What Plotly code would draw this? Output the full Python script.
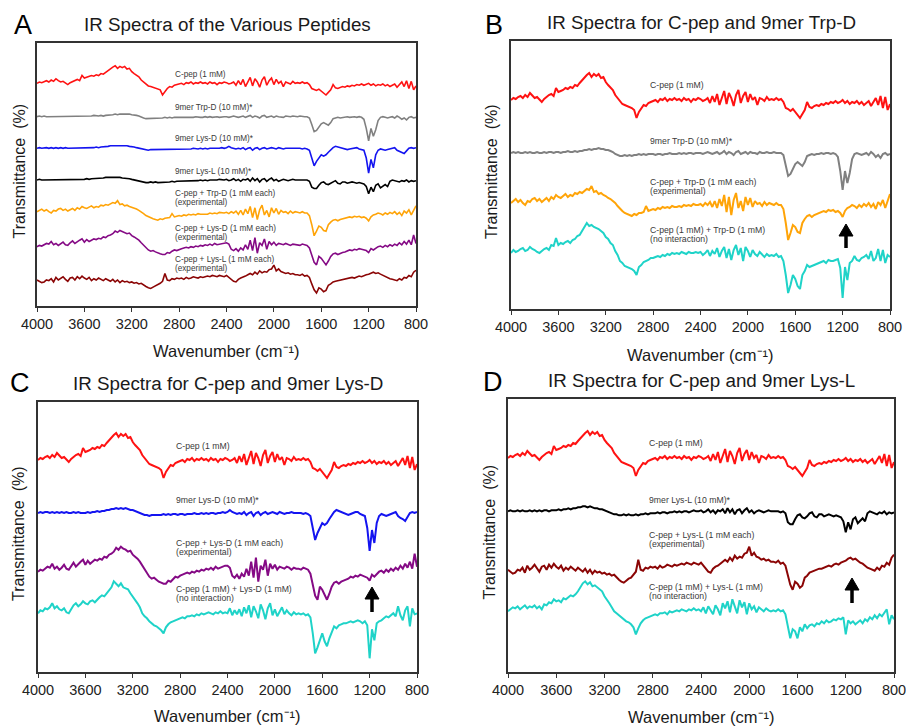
import plotly.graph_objects as go

# Wavenumber grid (cm-1), 4000 -> 800 every 20
WN = list(range(4000, 799, -20))

# Relative transmittance readings (arbitrary units, up = higher transmittance)
CPEP = [0, 2, 1, 3, 4, 2, 5, 3, 7, 4,
        2, 3, 0, -2, 1, 3, 5, 6, 4, 12,
        8, 9, 10, 12, 11, 13, 12, 15, 14, 17,
        20, 22, 25, 27, 23, 26, 24, 26, 22, 23,
        18, 15, 12, 10, 5, 2, -2, -4, -5, -6,
        -7, -8, -10, -18, -12, -8, -5, -6, -3, -2,
        -1, 0, -2, 1, 0, 2, -1, 1, 0, 2,
        0, 1, -1, 2, 0, 1, -2, 1, 0, 2,
        1, -1, 0, 2, -3, 4, -2, 6, -5, 3,
        9, -4, 7, 2, -6, 5, 10, -3, 4, 8,
        -2, 6, 0, 3, -5, 2, 1, -1, 3, 0,
        1, 0, 2, 0, 1, -2, -8, -9, -11, -9,
        -12, -15, -18, -14, -10, -2, -7, -8, -6, -5,
        -6, -4, -5, -3, -4, -2, -3, -1, -3, -2,
        0, -3, -1, -4, -2, -3, -1, -4, -2, -5,
        -3, -1, -6, -2, 2, -5, 4, -8, 3, -10,
        -4]

TRPD = [0, 1, 0, 1, 0, 0, 1, 0, 1, 0,
        0, 1, 0, 0, 1, 0, 1, 1, 0, 1,
        1, 0, 1, 1, 2, 1, 1, 2, 1, 2,
        2, 3, 3, 4, 3, 4, 4, 5, 4, 4,
        3, 3, 2, 1, -1, -2, -3, -3, -2, -3,
        -2, -3, -2, -2, -1, -2, -1, -2, -1, -1,
        -1, -2, -1, -1, -2, -1, -1, 0, -1, -1,
        -1, 0, -1, 0, -1, 0, 0, -1, 0, 0,
        0, -1, 0, 1, 0, -1, 0, 1, -1, 0,
        2, -1, 1, 0, -2, 1, 2, -1, 0, 1,
        -1, 1, 0, 0, -1, 1, 0, 0, 1, 0,
        0, 1, 0, 0, 0, -2, -12, -23, -21, -16,
        -11, -9, -11, -13, -9, -3, -2, -1, -2, -1,
        -1, 0, -1, 0, 0, -1, 0, -1, -4, -18,
        -37, -18, -30, -20, -6, -1, 0, -1, -2, -1,
        0, -2, 1, -1, -4, -2, -5, -1, 0, -2,
        -1]

LYSD = [0, 1, 0, 1, 1, 0, 1, 0, 1, 0,
        1, 0, 1, 0, 0, 1, 0, 1, 0, 0,
        0, 1, 0, 1, 1, 2, 1, 2, 2, 3,
        3, 4, 4, 5, 4, 5, 4, 5, 4, 3,
        3, 2, 1, 0, -1, -2, -2, -3, -2, -2,
        -2, -2, -2, -1, -2, -1, -2, -1, -1, -2,
        -1, -1, -2, -1, -1, -1, 0, -1, -1, 0,
        -1, 0, -1, 0, 0, -1, 0, 0, 1, 0,
        1, 3, 1, 0, -1, 0, -1, 1, -2, 0,
        1, -3, 0, 1, -2, 0, 1, -1, 0, 1,
        0, -1, 1, 0, -1, 0, 0, 1, 0, 0,
        0, 0, -1, 0, -1, -3, -15, -27, -20, -15,
        -10, -12, -10, -6, -2, 1, 3, 2, 1, 0,
        -1, -2, -1, 0, 1, 1, -1, -2, -3, -15,
        -38, -17, -30, -10, -3, -1, -2, -3, -2, -1,
        0, 1, -3, -5, -6, -8, -4, 0, 1, 0,
        1]

LYSL = [0, 1, 0, 0, 1, 0, 1, 0, 0, 1,
        0, 1, 0, 1, 0, 1, 1, 0, 1, 1,
        1, 2, 1, 2, 2, 3, 2, 3, 3, 4,
        4, 5, 5, 4, 5, 4, 3, 3, 2, 2,
        1, 0, -1, -2, -3, -3, -4, -4, -3, -4,
        -3, -4, -4, -3, -4, -3, -3, -2, -3, -2,
        -2, -2, -1, -2, -1, -1, -2, -1, -1, 0,
        -1, 0, -1, 0, 0, -1, 0, 1, 0, 0,
        1, -1, 0, 2, -1, 1, -2, 1, 0, 2,
        -2, 3, -1, 2, -3, 1, 2, -2, 1, 3,
        -1, 1, -2, 0, 1, 0, -1, 0, 1, 0,
        0, 0, 0, -1, 0, -2, -11, -13, -13, -8,
        -4, -3, -6, -7, -5, -2, -1, -5, -6, -3,
        -3, -5, -4, -3, -4, -5, -4, -5, -6, -10,
        -21, -11, -18, -8, -6, -12, -9, -7, -10, -2,
        0, -1, -2, -3, -1, -2, 0, -3, -1, -2,
        -1]

MIX_TRPD = [0, 2, 4, 1, 3, 0, -2, 2, 1, 4,
            5, 2, 4, 1, 3, 5, 2, 6, 4, 8,
            6, 5, 7, 9, 6, 8, 7, 10, 9, 11,
            10, 12, 14, 13, 17, 11, 12, 9, 10, 8,
            7, 5, 4, 2, 0, -3, -6, -8, -10, -11,
            -12, -13, -11, -12, -10, -10, -9, -3, -8, -7,
            -6, -7, -5, -6, -4, -5, -4, -5, -3, -4,
            -4, -3, -4, -2, -3, -2, -3, -1, -2, -2,
            -1, -3, 0, -2, 1, -4, 2, -5, 4, -3,
            8, -9, 6, -12, 3, 10, -5, 2, -8, 6,
            -2, 5, -4, 2, -1, 0, -3, 1, -2, 0,
            -1, -2, 0, -2, -2, -6, -20, -37, -30, -22,
            -24, -29, -30, -20, -16, -13, -12, -14, -12, -11,
            -10, -9, -8, -9, -7, -8, -7, -9, -8, -10,
            -14, -8, -5, -4, -2, -3, -5, -2, -4, -1,
            -3, 0, -4, -1, -6, 1, -2, 3, -5, 2,
            9]

MIX_LYSD = [0, 2, 1, 3, 5, 4, 8, 3, 5, 2,
            4, 7, 3, 2, 6, 9, 5, 8, 10, 12,
            7, 11, 8, 10, 12, 11, 13, 12, 15, 14,
            17, 18, 20, 24, 22, 25, 23, 22, 20, 21,
            17, 15, 13, 10, 6, 2, -2, -5, -7, -6,
            -8, -10, -11, -12, -12, -9, -10, -7, -5, -6,
            -4, -3, -2, -1, -2, 0, -1, 1, 0, 2,
            1, 3, 2, 4, 2, 5, 3, 4, 5, 6,
            6, 4, -4, -6, -3, -7, -2, -5, 3, -4,
            10, -6, 14, -10, 6, 2, 12, -4, 8, 3,
            7, 2, 5, 4, 3, 5, 4, 2, 4, 3,
            3, 2, 4, 3, 2, -2, -12, -24, -28, -15,
            -18, -24, -28, -22, -15, -11, -10, -12, -10, -9,
            -8, -7, -5, -6, -4, -5, -3, -4, -5, -6,
            -9, -3, -5, -2, 0, 1, -1, 2, 0, 3,
            1, 4, 2, 6, 3, 8, 4, 10, 3, 18,
            5]

MIX_LYSL = [0, -2, -4, -3, 0, -1, 2, -3, 4, 0,
            2, 5, 1, -2, 3, 4, 0, 5, 2, 6,
            3, 1, 4, -1, 2, 0, 3, 1, -1, 2,
            0, -2, 1, -3, 0, -4, -1, -3, -2, -4,
            -3, -5, -4, -6, -5, -8, -10, -12, -13, -11,
            -9, -8, -5, -2, 10, 0, -1, 2, 1, 3,
            2, 3, 1, 4, 2, 3, 5, 4, 3, 5,
            4, 5, 6, 5, 7, 6, 5, 7, 6, 5,
            7, 4, 2, -2, -3, 1, 3, 4, 6, 8,
            10, 8, 12, 9, 14, 11, 13, 12, 16, 17,
            23, 14, 17, 13, 12, 10, 11, 9, 10, 8,
            8, 7, 9, 6, 7, 4, -6, -15, -20, -12,
            -14, -18, -16, -8, -6, -3, -2, -1, 0, 1,
            1, 2, 3, 4, 3, 5, 6, 5, 7, 8,
            9, 11, 12, 10, 11, 9, 7, 6, 4, 2,
            1, 0, -1, 2, 0, 4, 3, 7, 5, 12,
            15]

SUM_TRPD = [0, 3, 1, 2, 4, 5, 2, 3, 6, 4,
            3, 1, 0, 2, 4, 5, 3, 8, 7, 15,
            8, 10, 9, 11, 12, 10, 13, 14, 17, 18,
            22, 25, 30, 27, 28, 26, 25, 24, 22, 20,
            16, 14, 10, 8, 2, -2, -8, -10, -13, -14,
            -15, -16, -18, -22, -14, -12, -9, -8, -7, -5,
            -5, -4, -3, -4, -2, -3, -1, -2, 0, -1,
            0, -1, 1, 0, -1, 1, 0, 0, 1, 0,
            1, -2, 0, 3, -3, 2, -1, 5, -4, 2,
            6, -5, 4, -7, 3, 8, -2, 5, -8, 6,
            2, -4, 3, -1, -3, 1, -2, -4, -1, -3,
            -2, -3, -1, -4, -3, -8, -22, -40, -32, -22,
            -26, -33, -36, -22, -18, -12, -14, -13, -12, -11,
            -10, -9, -8, -10, -7, -8, -8, -7, -6, -15,
            -45, -14, -27, -10, -8, -3, -7, -8, -5, -4,
            -2, -6, 2, -8, -5, 4, -8, 3, -10, -2,
            -4]

SUM_LYSD = [0, 3, 2, 5, 4, 6, 10, 5, 7, 4,
            3, 5, 1, 0, 4, 8, 10, 7, 9, 12,
            10, 9, 12, 13, 11, 14, 16, 18, 17, 20,
            23, 26, 32, 29, 27, 30, 26, 25, 24, 20,
            17, 14, 10, 6, 0, -3, -5, -8, -10, -12,
            -13, -15, -17, -20, -14, -11, -9, -8, -7, -6,
            -5, -4, -5, -3, -3, -2, -3, -1, -2, 0,
            -1, 0, 1, 0, -1, 1, 0, 2, 0, 1,
            0, 5, -2, 3, -1, 4, -3, 6, 0, 8,
            -4, 7, 2, -5, 9, 3, -6, 5, 10, -2,
            4, -3, 2, 6, -1, 3, 0, -2, 1, -1,
            0, -1, 0, -2, -1, -4, -20, -40, -34, -27,
            -20, -28, -33, -25, -18, -13, -15, -12, -11, -10,
            -10, -9, -8, -9, -8, -7, -8, -10, -8, -12,
            -45, -16, -27, -10, -8, -7, -5, -3, -4, -2,
            0, -3, 7, -2, -7, 3, 7, -13, 5, -1,
            0]

SUM_LYSL = [0, 2, 4, 3, 5, 2, 4, 6, 3, 5,
            4, 6, 3, 5, 2, 7, 6, 9, 8, 12,
            10, 11, 9, 13, 12, 14, 16, 15, 17, 20,
            24, 28, 30, 27, 29, 25, 26, 24, 22, 20,
            15, 12, 8, 4, 0, -2, -4, -6, -8, -10,
            -11, -13, -16, -23, -17, -12, -9, -7, -6, -5,
            -4, -3, -4, -2, -2, -1, -3, 0, -1, 0,
            1, 0, 2, 1, 0, 2, 1, 3, 1, 2,
            0, 4, -2, 5, 1, -3, 6, 2, -4, 8,
            3, 10, -1, 12, 5, -2, 11, 4, 9, -3,
            8, 2, 5, -1, 4, 2, 0, 3, 1, 0,
            1, 0, 2, 0, 1, -3, -17, -27, -18, -20,
            -27, -16, -20, -13, -17, -14, -13, -15, -12, -13,
            -10, -12, -9, -11, -10, -8, -9, -7, -8, -6,
            -23, -9, -12, -10, -13, -11, -9, -12, -8, -10,
            -6, -8, -4, -7, -3, -5, -1, 2, -13, -4,
            -8]

TICKS = [4000, 3600, 3200, 2800, 2400, 2000, 1600, 1200, 800]

W, H = 906, 727
RED, GRAY, BLUE, BLACK = "#ff1212", "#808080", "#1414f0", "#000000"
ORANGE, PURPLE, MAROON, CYAN = "#ffa408", "#850a85", "#8b0505", "#1fd3c8"

panels = [
    dict(s="", box=(37, 416, 43, 306), k=0.65, lw=1.6,
         traces=[(CPEP, RED, 83.3), (TRPD, GRAY, 116.7), (LYSD, BLUE, 148.3),
                 (LYSL, BLACK, 180), (MIX_TRPD, ORANGE, 211.7),
                 (MIX_LYSD, PURPLE, 246.7), (MIX_LYSL, MAROON, 280)],
         labels=[("C-pep (1 mM)", 75), ("9mer Trp-D (10 mM)*", 108),
                 ("9mer Lys-D (10 mM)*", 138), ("9mer Lys-L (10 mM)*", 172),
                 ("C-pep + Trp-D (1 mM each)", 193), ("(experimental)", 202),
                 ("C-pep + Lys-D (1 mM each)", 228), ("(experimental)", 237),
                 ("C-pep + Lys-L (1 mM each)", 259), ("(experimental)", 268)],
         lx=173, lfs=8.2, title="IR Spectra of the Various Peptides", ty=25, tx=227,
         letter="A", letx=23, lety=25, xt_y=351, yl_x=19, arrow=None),
    dict(s="2", box=(511, 890, 41, 309), k=1.0, lw=2.0,
         traces=[(CPEP, RED, 100), (TRPD, GRAY, 153), (MIX_TRPD, ORANGE, 203),
                 (SUM_TRPD, CYAN, 253)],
         labels=[("C-pep (1 mM)", 85), ("9mer Trp-D (10 mM)*", 141),
                 ("C-pep + Trp-D (1 mM each)", 182), ("(experimental)", 191),
                 ("C-pep (1 mM) + Trp-D (1 mM)", 230), ("(no interaction)", 239)],
         lx=648, lfs=8.7, title="IR Spectra for C-pep and 9mer Trp-D", ty=23, tx=701,
         letter="B", letx=494, lety=25, xt_y=355, yl_x=492, arrow=(846, 224, 248)),
    dict(s="3", box=(38, 417, 402, 672), k=1.0, lw=2.0,
         traces=[(CPEP, RED, 460), (LYSD, BLUE, 513), (MIX_LYSD, PURPLE, 571.7),
                 (SUM_LYSD, CYAN, 613.3)],
         labels=[("C-pep (1 mM)", 446), ("9mer Lys-D (10 mM)*", 500),
                 ("C-pep + Lys-D (1 mM each)", 543), ("(experimental)", 552),
                 ("C-pep (1 mM) + Lys-D (1 mM)", 589), ("(no interaction)", 598)],
         lx=174, lfs=8.7, title="IR Spectra for C-pep and 9mer Lys-D", ty=384, tx=228,
         letter="C", letx=20, lety=383, xt_y=716, yl_x=18, arrow=(372, 587, 612)),
    dict(s="4", box=(508, 894, 399, 672), k=1.0, lw=2.0,
         traces=[(CPEP, RED, 458), (LYSL, BLACK, 511.3), (MIX_LYSL, MAROON, 569.7),
                 (SUM_LYSL, CYAN, 611.3)],
         labels=[("C-pep (1 mM)", 443), ("9mer Lys-L (10 mM)*", 500),
                 ("C-pep + Lys-L (1 mM each)", 535), ("(experimental)", 544),
                 ("C-pep (1 mM) + Lys-L (1 mM)", 587), ("(no interaction)", 596)],
         lx=647, lfs=8.7, title="IR Spectra for C-pep and 9mer Lys-L", ty=381, tx=701,
         letter="D", letx=493, lety=382, xt_y=717, yl_x=489, arrow=(852, 578, 603)),
]

FONT = "Liberation Sans, Arial, sans-serif"
fig = go.Figure()
annotations = []
shapes = []
layout_axes = {}


def px(x):
    return x / W


def py(y):
    return 1 - y / H


for p in panels:
    x0, x1, y0, y1 = p["box"]
    k = p["k"]
    hp = y1 - y0
    xa, ya = "x" + p["s"], "y" + p["s"]
    for vals, col, base in p["traces"]:
        off = (y1 - base) / k
        fig.add_trace(go.Scatter(
            x=WN, y=[off + v for v in vals], mode="lines",
            line=dict(color=col, width=p["lw"]), xaxis=xa, yaxis=ya,
            showlegend=False, hoverinfo="skip"))
    layout_axes["xaxis" + p["s"]] = dict(
        domain=[px(x0), px(x1)], anchor=ya, range=[4000, 800], automargin=False,
        tickmode="array", tickvals=TICKS, ticktext=[str(t) for t in TICKS],
        ticklabeloverflow="allow",
        ticks="outside", ticklen=4, tickwidth=1.2, tickcolor="#333",
        showline=True, mirror=True, linecolor="#333", linewidth=1.6,
        showgrid=False, zeroline=False,
        tickfont=dict(family=FONT, size=14.5, color="#222"))
    layout_axes["yaxis" + p["s"]] = dict(
        domain=[py(y1), py(y0)], anchor=xa, range=[0, hp / k], automargin=False,
        showticklabels=False, ticks="", showline=True, mirror=True,
        linecolor="#333", linewidth=1.6, showgrid=False, zeroline=False)
    cx = (x0 + x1) / 2
    for txt, ly in p["labels"]:
        annotations.append(dict(
            x=px(p["lx"]), y=py(ly), xref="paper", yref="paper",
            xanchor="left", yanchor="middle", align="left", showarrow=False,
            text=txt, font=dict(family=FONT, size=p["lfs"], color="#3a3a3a")))
    annotations.append(dict(
        x=px(p["tx"]), y=py(p["ty"]), xref="paper", yref="paper",
        xanchor="center", yanchor="middle", showarrow=False, text=p["title"],
        font=dict(family=FONT, size=18.8, color="#1a1a1a")))
    annotations.append(dict(
        x=px(p["letx"]), y=py(p["lety"]), xref="paper", yref="paper",
        xanchor="center", yanchor="middle", showarrow=False, text=p["letter"],
        font=dict(family=FONT, size=27, color="#000")))
    annotations.append(dict(
        x=px(cx), y=py(p["xt_y"]), xref="paper", yref="paper",
        xanchor="center", yanchor="middle", showarrow=False,
        text="Wavenumber (cm\u207b\u00b9)",
        font=dict(family=FONT, size=16.5, color="#1a1a1a")))
    annotations.append(dict(
        x=px(p["yl_x"]), y=py((y0 + y1) / 2 - 3), xref="paper", yref="paper",
        xanchor="center", yanchor="middle", showarrow=False, textangle=-90,
        text="Transmittance\u00a0\u00a0(%)",
        font=dict(family=FONT, size=16, color="#1a1a1a")))
    if p["arrow"]:
        ax, tip, tail = p["arrow"]
        shapes.append(dict(type="line", xref="paper", yref="paper",
                           x0=px(ax), x1=px(ax), y0=py(tail), y1=py(tip + 10),
                           line=dict(color="#000", width=3.5)))
        path = "M {a},{b} L {c},{d} L {e},{b} Z".format(
            a=px(ax - 7), b=py(tip + 12), c=px(ax), d=py(tip), e=px(ax + 7))
        shapes.append(dict(type="path", xref="paper", yref="paper", path=path,
                           fillcolor="#000", line=dict(color="#000", width=1)))

fig.update_layout(
    template="none",
    width=W, height=H, margin=dict(l=0, r=0, t=0, b=0, pad=0), autosize=False,
    paper_bgcolor="white", plot_bgcolor="white",
    annotations=annotations, shapes=shapes, **layout_axes)

fig.write_html("out.html", config={"responsive": False})
